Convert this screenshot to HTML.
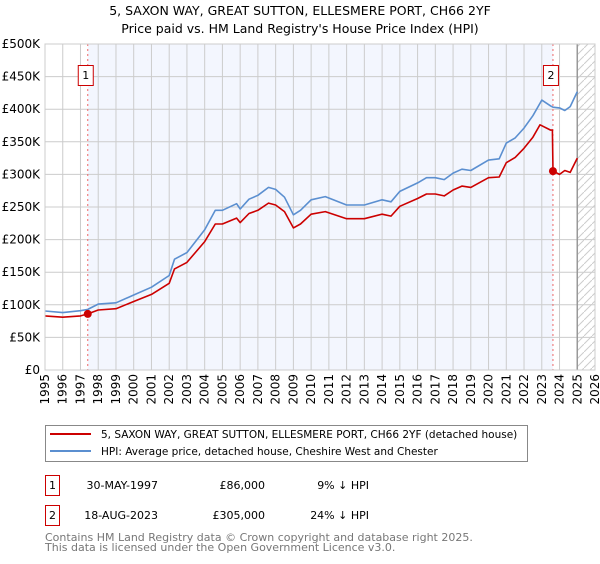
<!DOCTYPE html>
<html><head><meta charset="utf-8"><style>
body{margin:0;background:#fff;width:600px;height:560px;overflow:hidden;font-family:"DejaVu Sans","Liberation Sans",sans-serif;}
svg text{font-family:"DejaVu Sans","Liberation Sans",sans-serif;}
</style></head><body>
<svg id="chart" width="600" height="560" xmlns="http://www.w3.org/2000/svg">
<defs><pattern id="hatch" patternUnits="userSpaceOnUse" width="8" height="8"><path d="M0,8 L8,0" stroke="#ccc" stroke-width="1"/></pattern></defs>
<text x="300" y="15" text-anchor="middle" font-size="12.5">5, SAXON WAY, GREAT SUTTON, ELLESMERE PORT, CH66 2YF</text>
<text x="300" y="33" text-anchor="middle" font-size="12.5">Price paid vs. HM Land Registry's House Price Index (HPI)</text>
<g id="plot"></g>
<g>
<rect x="45.5" y="425.5" width="482" height="36" fill="#fff" stroke="#888"/>
<line x1="50" y1="434" x2="91" y2="434" stroke="#cc0000" stroke-width="2"/>
<text x="101" y="438" font-size="10.5">5, SAXON WAY, GREAT SUTTON, ELLESMERE PORT, CH66 2YF (detached house)</text>
<line x1="50" y1="451" x2="91" y2="451" stroke="#5b8fd0" stroke-width="2"/>
<text x="101" y="455" font-size="10.5">HPI: Average price, detached house, Cheshire West and Chester</text>
</g>
<g>
<rect x="45.5" y="475.5" width="14" height="20" fill="#fff" stroke="#cc0000"/>
<text x="52.5" y="489" text-anchor="middle" font-size="11">1</text>
<text x="158" y="489" text-anchor="end" font-size="11">30-MAY-1997</text>
<text x="265" y="489" text-anchor="end" font-size="11">£86,000</text>
<text x="369" y="489" text-anchor="end" font-size="11">9% ↓ HPI</text>
</g>
<g>
<rect x="45.5" y="505.5" width="14" height="20" fill="#fff" stroke="#cc0000"/>
<text x="52.5" y="519" text-anchor="middle" font-size="11">2</text>
<text x="158" y="519" text-anchor="end" font-size="11">18-AUG-2023</text>
<text x="265" y="519" text-anchor="end" font-size="11">£305,000</text>
<text x="369" y="519" text-anchor="end" font-size="11">24% ↓ HPI</text>
</g>
<text x="45" y="541" font-size="11" fill="#777">Contains HM Land Registry data © Crown copyright and database right 2025.</text>
<text x="45" y="551" font-size="11" fill="#777">This data is licensed under the Open Government Licence v3.0.</text>
</svg>
<script>
const hpiYears=[1995,1996,1997,1997.41,1998,1999,2000,2001,2002,2002.3,2003,2004,2004.6,2005,2005.8,2006,2006.5,2007,2007.6,2008,2008.5,2009,2009.4,2010,2010.8,2012,2013,2014,2014.5,2015,2016,2016.5,2017,2017.5,2018,2018.5,2019,2020,2020.6,2021,2021.5,2022,2022.5,2023,2023.5,2023.63,2024,2024.3,2024.6,2025];
const hpiValues=[90.5,88,91,93,101,103,115,127,145,170,180,215,245,245,255,247,262,268,280,277,265,238,245,261,266,253,253,261,258,274,287,295,295,292,302,308,306,322,324,348,356,371,390,414,405,403,402,398,404,427];
const redYears=[1995,1996,1997,1997.41,1998,1999,2000,2001,2002,2002.3,2003,2004,2004.6,2005,2005.8,2006,2006.5,2007,2007.6,2008,2008.5,2009,2009.4,2010,2010.8,2012,2013,2014,2014.5,2015,2016,2016.5,2017,2017.5,2018,2018.5,2019,2020,2020.6,2021,2021.5,2022,2022.5,2022.9,2023.5,2023.6,2023.63,2024,2024.3,2024.6,2025];
const redValues=[83,81,83,86,92,94,105,116,133,155,165,197,224,224,233,226,240,245,256,253,243,218,224,239,243,232,232,239,236,251,263,270,270,267,276,282,280,295,296,318,326,340,357,376,368,368,305,300,306,303,325];
const saleYears=[1997.41,2023.63];
const saleValues=[86,305];
const saleLabels=["1","2"];
const yTicks=[0,50,100,150,200,250,300,350,400,450,500];
const yTickLabels=["£0","£50K","£100K","£150K","£200K","£250K","£300K","£350K","£400K","£450K","£500K"];
const xTicks=[1995,1996,1997,1998,1999,2000,2001,2002,2003,2004,2005,2006,2007,2008,2009,2010,2011,2012,2013,2014,2015,2016,2017,2018,2019,2020,2021,2022,2023,2024,2025,2026];

const NS="http://www.w3.org/2000/svg";
const X0=45,X1=595,Y0=370,Y1=44,T0=1995,T1=2026,VMAX=500;
const sx=t=>X0+(t-T0)/(T1-T0)*(X1-X0);
const sy=v=>Y0-v/VMAX*(Y0-Y1);
const g=document.getElementById('plot');
function mk(tag,attrs){const e=document.createElementNS(NS,tag);for(const k in attrs)e.setAttribute(k,attrs[k]);g.appendChild(e);return e;}
let e;
e=mk('rect',{x:sx(saleYears[0]),y:Y1,width:sx(saleYears[1])-sx(saleYears[0]),height:Y0-Y1,fill:'#f3f6fe'});


e=mk('rect',{x:sx(2025),y:Y1,width:X1-sx(2025),height:Y0-Y1,fill:'url(#hatch)'});


yTicks.forEach((v,i)=>{
 e=mk('line',{x1:X0,x2:X1,y1:sy(v),y2:sy(v),stroke:'#ccc','stroke-width':1});
 
 
 e=mk('text',{x:X0-5,y:sy(v)+4,'text-anchor':'end','font-size':12});
 e.textContent=yTickLabels[i];
 
 
});
xTicks.forEach(t=>{
 e=mk('line',{x1:sx(t),x2:sx(t),y1:Y1,y2:Y0,stroke:'#ccc','stroke-width':1});
 
 
 const x=sx(t)+4,y=Y0+4;
 e=mk('text',{x:x,y:y,'text-anchor':'end','font-size':12,transform:`rotate(-90 ${x} ${y})`});
 e.textContent=t;
 
 
});
e=mk('line',{x1:sx(2025),x2:sx(2025),y1:Y1,y2:Y0,stroke:'#999','stroke-width':1.5});


saleYears.forEach((t,i)=>{
 e=mk('line',{x1:sx(t),x2:sx(t),y1:Y1,y2:Y0,stroke:'#e66','stroke-width':1,'stroke-dasharray':'2,3'});
 
 
});
function path(xs,vs,col,name){
 const d=xs.map((t,i)=>(i?'L':'M')+sx(t).toFixed(1)+','+sy(vs[i]).toFixed(1)).join('');
 e=mk('path',{d:d,fill:'none',stroke:col,'stroke-width':1.6,'stroke-linejoin':'round'});
 
 
}
path(hpiYears,hpiValues,'#5b8fd0','hpi-line');
path(redYears,redValues,'#cc0000','price-paid-line');
saleYears.forEach((t,i)=>{
 e=mk('circle',{cx:sx(t),cy:sy(saleValues[i]),r:4,fill:'#cc0000'});
 
 
 const bx=sx(t)-9;
 e=mk('rect',{x:bx-0.5,y:65.5,width:15,height:20,fill:'#fff',stroke:'#cc0000'});
 
 
 e=mk('text',{x:bx+7,y:79,'text-anchor':'middle','font-size':11});
 e.textContent=saleLabels[i];
 
 
});
e=mk('rect',{x:X0,y:Y1,width:X1-X0,height:Y0-Y1,fill:'none',stroke:'#ccc'});


</script>
</body></html>
